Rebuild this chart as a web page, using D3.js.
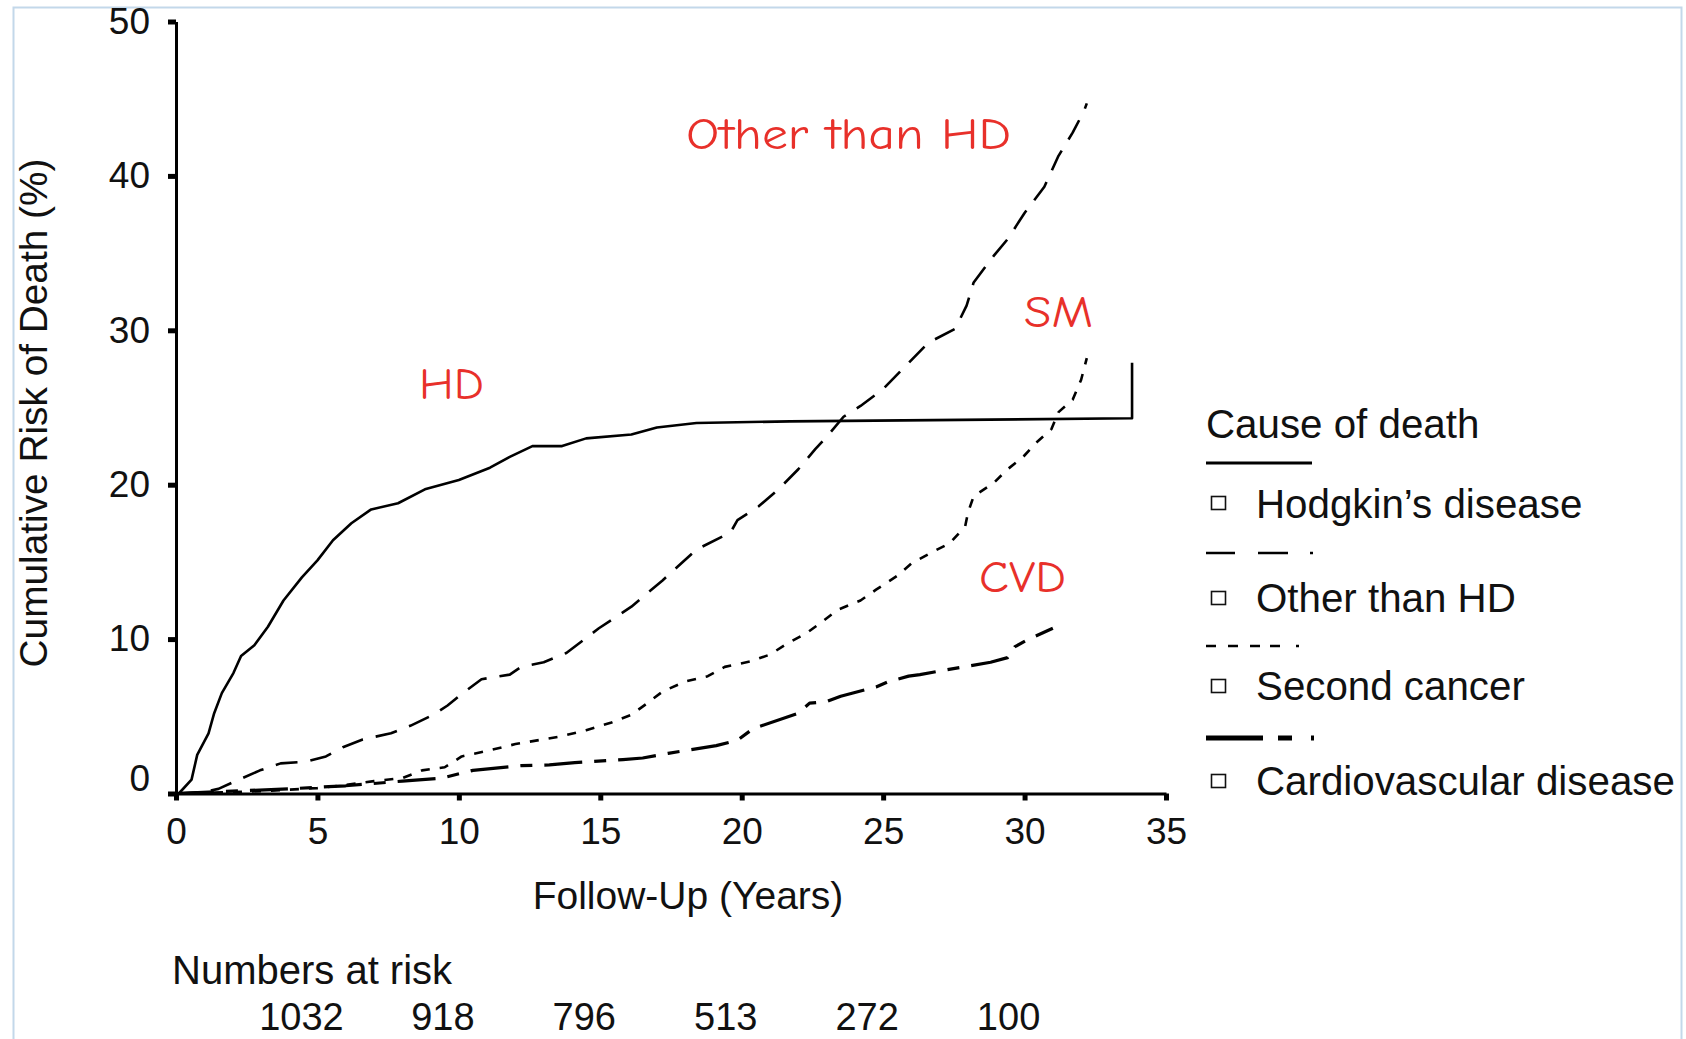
<!DOCTYPE html>
<html>
<head>
<meta charset="utf-8">
<script src="https://cdn.jsdelivr.net/npm/d3@7"></script>
<style>
  html, body { margin: 0; padding: 0; background: #fff; }
  svg { display: block; }
  text { font-family: "Liberation Sans", Arial, Helvetica, sans-serif; fill: #111; }
  .note { font-family: "Comic Sans MS", "Comic Neue", "DejaVu Sans", sans-serif; fill: #e8302a; }
</style>
</head>
<body>
<svg id="chart" width="1686" height="1039"></svg>
<script>
// Cumulative risk of death (%) by follow-up time (years), one array pair per cause
const hdTime = [0, 0.1, 0.55, 0.75, 1.15, 1.35, 1.62, 2.03, 2.3, 2.77, 3.25, 3.8, 4.45, 5.0, 5.55, 6.2, 6.9, 7.85, 8.8, 10.0, 11.1, 11.8, 12.6, 13.65, 14.5, 16.1, 17.0, 18.4, 21.7, 33.8, 33.8];
const hdRisk = [0, 0, 0.9, 2.5, 3.9, 5.2, 6.5, 7.8, 8.9, 9.6, 10.8, 12.5, 14.0, 15.1, 16.4, 17.5, 18.4, 18.8, 19.7, 20.3, 21.1, 21.8, 22.5, 22.5, 23.0, 23.25, 23.7, 24.0, 24.1, 24.3, 27.9];

const otherTime = [0, 1, 1.5, 2.1, 2.97, 3.7, 4.6, 5.3, 5.9, 6.6, 7.6, 8.3, 9.1, 9.6, 10.0, 10.8, 11.8, 12.2, 13.0, 13.8, 14.95, 16.1, 17.2, 18.4, 19.6, 19.85, 20.6, 21.3, 22.0, 22.6, 23.0, 23.6, 24.2, 25.0, 25.8, 26.6, 27.55, 27.95, 28.2, 28.9, 29.4, 30.0, 30.7, 31.2, 31.7, 32.1, 32.2];
const otherRisk = [0, 0.1, 0.3, 0.8, 1.5, 1.95, 2.06, 2.4, 3.0, 3.5, 3.9, 4.4, 5.1, 5.7, 6.3, 7.4, 7.7, 8.2, 8.5, 9.1, 10.7, 12.1, 13.8, 15.8, 16.9, 17.7, 18.6, 19.7, 21.0, 22.3, 23.1, 24.4, 25.1, 26.2, 27.7, 29.2, 30.1, 31.6, 33.1, 34.8, 35.9, 37.6, 39.3, 41.3, 42.8, 44.2, 44.7];

const scTime = [0, 1, 2, 3, 4, 5, 6, 7, 8, 8.7, 9.5, 10.1, 11.1, 12.0, 13.6, 14.5, 15.4, 16.1, 16.7, 17.2, 18.0, 18.8, 19.4, 20.3, 21.0, 21.6, 22.3, 22.9, 23.4, 24.2, 24.75, 25.5, 26.0, 26.8, 27.35, 27.9, 28.0, 28.2, 28.9, 29.4, 29.95, 30.4, 30.95, 31.2, 31.7, 32.0, 32.2];
const scRisk = [0, 0.05, 0.1, 0.15, 0.25, 0.35, 0.55, 0.8, 1.0, 1.5, 1.7, 2.4, 2.8, 3.2, 3.7, 4.1, 4.6, 5.1, 5.9, 6.6, 7.25, 7.6, 8.2, 8.55, 9.0, 9.7, 10.4, 11.2, 11.9, 12.5, 13.2, 14.1, 14.9, 15.7, 16.2, 17.3, 18.2, 19.25, 20.1, 21.0, 21.8, 22.7, 23.6, 24.7, 25.5, 26.8, 28.2];

const cvdTime = [0, 2, 4, 5.4, 6, 8, 9.4, 10.5, 12.2, 13.2, 14.1, 15.8, 16.5, 17.4, 19.1, 19.85, 20.4, 22.0, 22.4, 23.0, 23.5, 24.75, 25.2, 25.9, 26.3, 26.9, 28.8, 29.4, 29.65, 30.1, 31.0];
const cvdRisk = [0, 0.15, 0.3, 0.45, 0.5, 0.8, 1.0, 1.5, 1.8, 1.85, 2.0, 2.2, 2.3, 2.6, 3.1, 3.45, 4.2, 5.2, 5.85, 5.95, 6.3, 6.9, 7.25, 7.6, 7.7, 7.9, 8.5, 8.8, 9.5, 9.95, 10.7];

const xTicks = [0, 5, 10, 15, 20, 25, 30, 35];
const yTicks = [0, 10, 20, 30, 40, 50];

const riskYears = [5, 10, 15, 20, 25, 30];
const riskCounts = [1032, 918, 796, 513, 272, 100];

const legendTitle = "Cause of death";
const legendLabels = ["Hodgkin\u2019s disease", "Other than HD", "Second cancer", "Cardiovascular disease"];

const svg = d3.select("#chart");

// light blue frame around the figure
svg.append("rect")
  .attr("x", 13.5).attr("y", 7.5)
  .attr("width", 1668).attr("height", 1060)
  .attr("fill", "none").attr("stroke", "#c3d8ea").attr("stroke-width", 2);

const x = d3.scaleLinear().domain([0, 35]).range([176, 1166]);
const y = d3.scaleLinear().domain([0, 50]).range([793.5, 21.5]);

// curves
const line = d3.line().x(d => x(d[0])).y(d => y(d[1])).curve(d3.curveLinear);
const series = [
  { t: hdTime, v: hdRisk, dash: null, w: 2.6 },
  { t: otherTime, v: otherRisk, dash: "22,13", w: 2.6 },
  { t: scTime, v: scRisk, dash: "9,10", w: 2.6 },
  { t: cvdTime, v: cvdRisk, dash: "38,12,12,12", w: 3.2 }
];
svg.append("g").selectAll("path")
  .data(series)
  .join("path")
  .attr("d", s => line(s.t.map((t, i) => [t, s.v[i]])))
  .attr("fill", "none")
  .attr("stroke", "#000")
  .attr("stroke-width", s => s.w)
  .attr("stroke-linejoin", "round")
  .attr("stroke-dasharray", s => s.dash);

// axes
const yAxis = svg.append("g")
  .attr("transform", `translate(${x(0)},0)`)
  .call(d3.axisLeft(y).tickValues(yTicks).tickSize(8).tickSizeOuter(0).tickPadding(18));
const xAxis = svg.append("g")
  .attr("transform", `translate(0,${y(0)})`)
  .call(d3.axisBottom(x).tickValues(xTicks).tickSize(7).tickSizeOuter(0).tickPadding(17));

[yAxis, xAxis].forEach(g => {
  g.select(".domain").attr("stroke", "#000").attr("stroke-width", 3);
  g.selectAll(".tick line").attr("stroke", "#000").attr("stroke-width", 5);
  g.selectAll(".tick text")
    .style("font-family", "'Liberation Sans', Arial, sans-serif")
    .attr("font-size", 37).attr("fill", "#111");
});
// the zero on the risk axis sits a little above its tick
yAxis.selectAll(".tick text").filter(d => d === 0).attr("dy", "-0.08em");

// axis titles
svg.append("text")
  .attr("transform", "translate(47,413) rotate(-90)")
  .attr("text-anchor", "middle")
  .attr("font-size", 38.8)
  .text("Cumulative Risk of Death (%)");

svg.append("text")
  .attr("x", 688).attr("y", 909)
  .attr("text-anchor", "middle")
  .attr("font-size", 39)
  .text("Follow-Up (Years)");

// numbers at risk
svg.append("text")
  .attr("x", 172).attr("y", 984)
  .attr("font-size", 40)
  .text("Numbers at risk");

svg.append("g").selectAll("text")
  .data(riskYears)
  .join("text")
  .attr("x", d => x(d) - 16)
  .attr("y", 1030)
  .attr("text-anchor", "middle")
  .attr("font-size", 38)
  .text((d, i) => riskCounts[i]);

// curve annotations
const notes = [
  { text: "Other than HD", x0: 686, x1: 1011, base: 149 },
  { text: "SM", x0: 1024, x1: 1093, base: 327 },
  { text: "HD", x0: 419, x1: 484, base: 399 },
  { text: "CVD", x0: 979, x1: 1066, base: 592 }
];
svg.append("g").selectAll("text")
  .data(notes)
  .join("text")
  .attr("class", "note")
  .attr("x", d => d.x0)
  .attr("y", d => d.base)
  .attr("font-size", 45)
  .attr("textLength", d => d.x1 - d.x0)
  .attr("lengthAdjust", "spacingAndGlyphs")
  .text(d => d.text);

// legend
const lg = svg.append("g");
lg.append("text").attr("x", 1206).attr("y", 438).attr("font-size", 40.3).text(legendTitle);

const sampleY = [463, 553, 646, 738];
const sampleDash = [null, "29,23,30,22,3,200", "10,12,10,12,10,10,10,16,3,200", "57,15,14,19,3,200"];
const sampleW = [3, 2.6, 2.6, 5];
lg.selectAll("line.sample")
  .data(sampleY)
  .join("line")
  .attr("class", "sample")
  .attr("x1", 1206).attr("x2", (d, i) => i === 0 ? 1312 : 1316)
  .attr("y1", d => d).attr("y2", d => d)
  .attr("stroke", "#000")
  .attr("stroke-width", (d, i) => sampleW[i])
  .attr("stroke-dasharray", (d, i) => sampleDash[i]);

const boxTop = [496, 591, 679, 774];
lg.selectAll("rect.box")
  .data(boxTop)
  .join("rect")
  .attr("class", "box")
  .attr("x", 1211.5).attr("y", d => d + 0.5)
  .attr("width", 14).attr("height", 13)
  .attr("fill", "#fff").attr("stroke", "#111").attr("stroke-width", 1.6);

const labelBase = [518, 612, 700, 795];
lg.selectAll("text.lab")
  .data(legendLabels)
  .join("text")
  .attr("class", "lab")
  .attr("x", 1256)
  .attr("y", (d, i) => labelBase[i])
  .attr("font-size", 40.3)
  .text(d => d);
</script>
</body>
</html>
